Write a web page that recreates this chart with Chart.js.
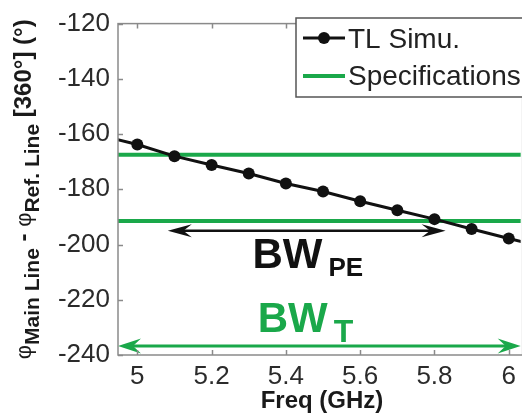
<!DOCTYPE html>
<html>
<head>
<meta charset="utf-8">
<title>TL phase difference</title>
<style>
  html, body { margin: 0; padding: 0; background: #fff; }
  #wrap { width: 522px; height: 419px; }
</style>
</head>
<body>
<div id="wrap"><canvas id="phaseChart" width="522" height="419"></canvas></div>
<script src="https://cdn.jsdelivr.net/npm/chart.js@4.4.1/dist/chart.umd.min.js"></script>
<script>
// phase difference between main line and reference line, TL simulation
var freqs  = [4.9, 5.0, 5.1, 5.2, 5.3, 5.4, 5.5, 5.6, 5.7, 5.8, 5.9, 6.0, 6.1];
var tlSimu = [-160.5, -163.8, -168.0, -171.2, -174.3, -177.9, -180.8, -184.3, -187.6, -190.8, -194.4, -197.8, -201.2];

// spec limits (upper / lower)
var specLimits = [-167.5, -191.5];
var specFreqs  = [4.9, 6.1];

var xTicks = [5, 5.2, 5.4, 5.6, 5.8, 6];
var yTicks = [-120, -140, -160, -180, -200, -220, -240];

// bandwidth arrows: [from, to] in GHz and the phase level they sit on
var bwPE = [5.082, 5.83];
var bwPELevel = -195;
var bwT = [4.948, 6.032];
var bwTLevel = -236.7;

var X_MIN = 4.948, X_MAX = 6.032;
var GREEN = '#1aa84a';
var FONT = '"Liberation Sans", Arial, sans-serif';

function arrow(ctx, x1, x2, y, color, lw, len, half) {
  ctx.save();
  ctx.strokeStyle = color;
  ctx.fillStyle = color;
  ctx.lineWidth = lw;
  ctx.beginPath();
  ctx.moveTo(x1 + len * 0.6, y);
  ctx.lineTo(x2 - len * 0.6, y);
  ctx.stroke();
  [[x1, 1], [x2, -1]].forEach(function (h) {
    var tx = h[0], d = h[1];
    ctx.beginPath();
    ctx.moveTo(tx, y);
    ctx.lineTo(tx + d * len, y - half);
    ctx.lineTo(tx + d * len * 0.65, y);
    ctx.lineTo(tx + d * len, y + half);
    ctx.closePath();
    ctx.fill();
  });
  ctx.restore();
}

function label(ctx, main, sub, x, y, color, mainSize, subSize, subDy) {
  ctx.save();
  ctx.fillStyle = color;
  ctx.textBaseline = 'alphabetic';
  ctx.textAlign = 'left';
  ctx.font = 'bold ' + mainSize + 'px ' + FONT;
  ctx.fillText(main, x, y);
  var w = ctx.measureText(main).width;
  ctx.font = 'bold ' + subSize + 'px ' + FONT;
  ctx.fillText(sub, x + w + 6, y + subDy);
  ctx.restore();
}

var decorations = {
  id: 'decorations',
  afterDraw: function (chart) {
    var ctx = chart.ctx;
    var xs = chart.scales.x, ys = chart.scales.y;
    var a = chart.chartArea;

    // bandwidth arrows
    arrow(ctx, xs.getPixelForValue(bwPE[0]), xs.getPixelForValue(bwPE[1]),
          ys.getPixelForValue(bwPELevel), '#111', 2.5, 24, 6.5);
    label(ctx, 'BW', 'PE', xs.getPixelForValue(5.31), ys.getPixelForValue(-208.6),
          '#111', 42, 26, 8);
    arrow(ctx, xs.getPixelForValue(bwT[0]), xs.getPixelForValue(bwT[1]),
          ys.getPixelForValue(bwTLevel), GREEN, 3, 23, 7.5);
    label(ctx, 'BW', 'T', xs.getPixelForValue(5.324), ys.getPixelForValue(-231.8),
          GREEN, 42, 32, 10);

    // axes box with inward ticks
    ctx.save();
    ctx.strokeStyle = '#8a8a8a';
    ctx.lineWidth = 1.5;
    ctx.strokeRect(a.left, a.top, a.right - a.left + 2, a.bottom - a.top);
    ctx.beginPath();
    xTicks.forEach(function (v) {
      var px = Math.round(xs.getPixelForValue(v)) + 0.5;
      ctx.moveTo(px, a.bottom); ctx.lineTo(px, a.bottom - 5);
      ctx.moveTo(px, a.top); ctx.lineTo(px, a.top + 5);
    });
    yTicks.forEach(function (v) {
      var py = Math.round(ys.getPixelForValue(v)) + 0.5;
      ctx.moveTo(a.left, py); ctx.lineTo(a.left + 5, py);
    });
    ctx.stroke();
    ctx.restore();

    // legend
    ctx.save();
    var lx = 296, ly = 18;
    ctx.fillStyle = '#fff';
    ctx.fillRect(lx, ly, 240, 79);
    ctx.strokeStyle = '#555';
    ctx.lineWidth = 1.5;
    ctx.strokeRect(lx, ly, 240, 79);
    ctx.lineWidth = 3;
    ctx.strokeStyle = '#111';
    ctx.beginPath(); ctx.moveTo(303, 38); ctx.lineTo(345, 38); ctx.stroke();
    ctx.fillStyle = '#111';
    ctx.beginPath(); ctx.arc(324, 38, 6, 0, Math.PI * 2); ctx.fill();
    ctx.lineWidth = 4;
    ctx.strokeStyle = GREEN;
    ctx.beginPath(); ctx.moveTo(303, 76); ctx.lineTo(345, 76); ctx.stroke();
    ctx.fillStyle = '#222';
    ctx.font = '28px ' + FONT;
    ctx.textBaseline = 'middle';
    ctx.fillText('TL Simu.', 348, 40);
    ctx.fillText('Specifications', 348, 77);
    ctx.restore();

    // x axis title
    ctx.save();
    ctx.fillStyle = '#1a1a1a';
    ctx.font = 'bold 24px ' + FONT;
    ctx.textAlign = 'center';
    ctx.textBaseline = 'alphabetic';
    ctx.fillText('Freq (GHz)', 322, 408);
    ctx.restore();

    // y axis title with subscripts, rotated
    var parts = [
      { t: '\u03c6', f: '22px ' + FONT, dy: 0 },
      { t: 'Main Line', f: 'bold 21px ' + FONT, dy: 8 },
      { t: ' - ', f: 'bold 24px ' + FONT, dy: 0 },
      { t: '\u03c6', f: '22px ' + FONT, dy: 0 },
      { t: 'Ref. Line', f: 'bold 21px ' + FONT, dy: 8 },
      { t: ' [360\u00b0] (\u00b0)', f: 'bold 24px ' + FONT, dy: 0 }
    ];
    ctx.save();
    ctx.fillStyle = '#1a1a1a';
    ctx.textBaseline = 'alphabetic';
    var total = 0;
    parts.forEach(function (p) { ctx.font = p.f; p.w = ctx.measureText(p.t).width; total += p.w; });
    ctx.translate(31, (a.top + a.bottom) / 2);
    ctx.rotate(-Math.PI / 2);
    var cx = -total / 2;
    parts.forEach(function (p) { ctx.font = p.f; ctx.fillText(p.t, cx, p.dy); cx += p.w; });
    ctx.restore();
  }
};

new Chart(document.getElementById('phaseChart').getContext('2d'), {
  type: 'line',
  data: {
    datasets: [{
      label: 'TL Simu.',
      data: freqs.map(function (f, i) { return { x: f, y: tlSimu[i] }; }),
      borderColor: '#111',
      backgroundColor: '#111',
      borderWidth: 3,
      pointRadius: freqs.map(function (f) { return (f < X_MIN || f > X_MAX) ? 0 : 6; }),
      pointBorderWidth: 0,
      tension: 0
    }].concat(specLimits.map(function (lvl) {
      return {
        label: 'Specifications',
        data: specFreqs.map(function (f) { return { x: f, y: lvl }; }),
        borderColor: GREEN,
        borderWidth: 4,
        pointRadius: 0
      };
    }))
  },
  options: {
    responsive: false,
    animation: false,
    layout: { padding: { top: 19, right: 0, bottom: 0, left: 0 } },
    plugins: { legend: { display: false }, tooltip: { enabled: false } },
    scales: {
      x: {
        type: 'linear', min: X_MIN, max: X_MAX,
        afterFit: function (s) { s.height = 64; },
        afterBuildTicks: function (s) { s.ticks = xTicks.map(function (v) { return { value: v }; }); },
        grid: { display: false, drawTicks: false },
        border: { display: false },
        ticks: {
          font: { family: FONT, size: 26 }, color: '#2b2b2b', padding: 6,
          maxRotation: 0, autoSkip: false,
          callback: function (v) { return String(v); }
        }
      },
      y: {
        min: -240, max: -120,
        afterFit: function (s) { s.width = 118; },
        afterBuildTicks: function (s) { s.ticks = yTicks.map(function (v) { return { value: v }; }); },
        grid: { display: false, drawTicks: false },
        border: { display: false },
        ticks: {
          font: { family: FONT, size: 26 }, color: '#2b2b2b', padding: 8,
          autoSkip: false,
          callback: function (v) { return String(v); }
        }
      }
    }
  },
  plugins: [decorations]
});
</script>
</body>
</html>
